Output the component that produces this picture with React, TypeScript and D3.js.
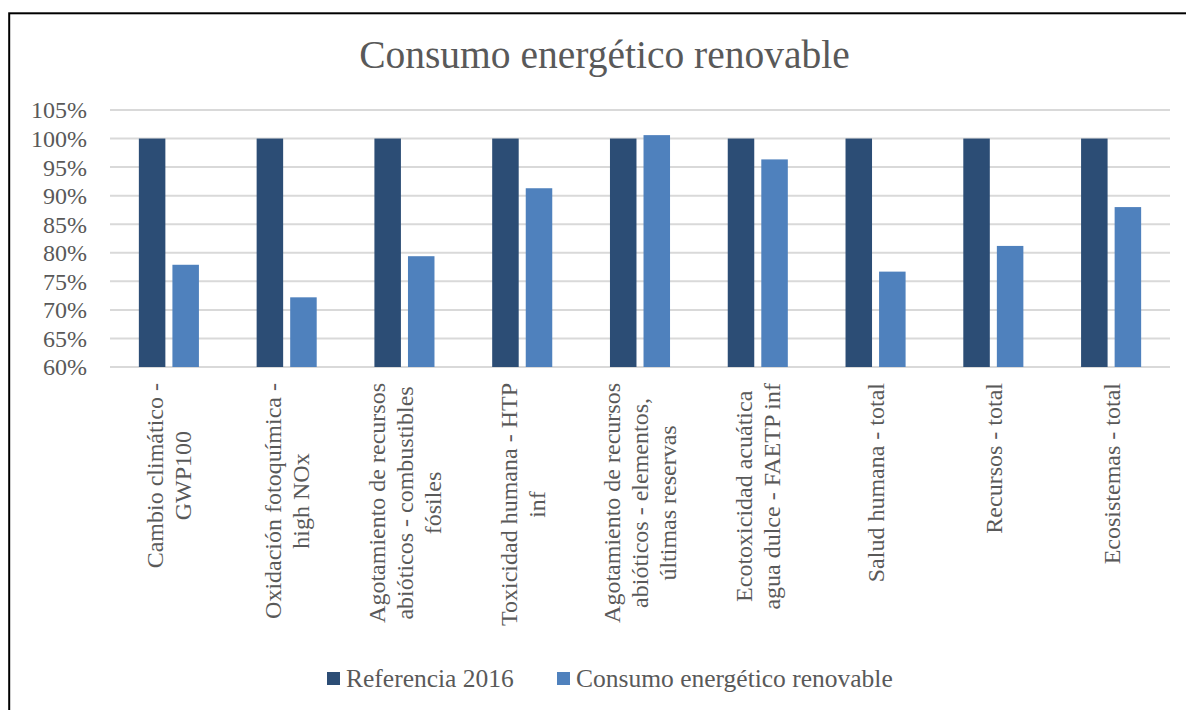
import React, { useEffect, useRef } from "react";
import * as d3 from "d3";

const categories: string[][] = [
  ["Cambio climático -", "GWP100"],
  ["Oxidación fotoquímica -", "high NOx"],
  ["Agotamiento de recursos", "abióticos - combustibles", "fósiles"],
  ["Toxicidad humana - HTP", "inf"],
  ["Agotamiento de recursos", "abióticos - elementos,", "últimas reservas"],
  ["Ecotoxicidad acuática", "agua dulce - FAETP inf"],
  ["Salud humana - total"],
  ["Recursos - total"],
  ["Ecosistemas - total"],
];

const seriesNames = ["Referencia 2016", "Consumo energético renovable"];
const referencia2016 = [100, 100, 100, 100, 100, 100, 100, 100, 100];
const consumoRenovable = [77.9, 72.2, 79.4, 91.3, 100.6, 96.35, 76.7, 81.2, 88.0];
const yTicks = [60, 65, 70, 75, 80, 85, 90, 95, 100, 105];
const title = "Consumo energético renovable";

const colors = ["#2C4D75", "#4F81BD"];
const FONT = "'Liberation Serif', 'Times New Roman', serif";
const TEXT = "#595959";

export default function App() {
  const ref = useRef<SVGSVGElement>(null);

  useEffect(() => {
    const svg = d3.select(ref.current);
    svg.selectAll("*").remove();

    const left = 110, right = 1170, top = 110, bottom = 367;
    const y = d3.scaleLinear().domain([60, 105]).range([bottom, top]);
    const x0 = d3
      .scaleBand<number>()
      .domain(categories.map((_, i) => i))
      .range([left, right])
      .paddingInner(0.49)
      .paddingOuter(0.245);
    const x1 = d3
      .scaleBand<number>()
      .domain([0, 1])
      .range([0, x0.bandwidth()])
      .paddingInner(0.21);

    // frame
    svg
      .append("rect")
      .attr("x", 9.2)
      .attr("y", 13.3)
      .attr("width", 1300)
      .attr("height", 800)
      .attr("fill", "white")
      .attr("stroke", "#000")
      .attr("stroke-width", 2);

    // title
    svg
      .append("text")
      .attr("x", 604.5)
      .attr("y", 68)
      .attr("text-anchor", "middle")
      .attr("font-family", FONT)
      .attr("font-size", 39.5)
      .attr("fill", TEXT)
      .text(title);

    // gridlines
    svg
      .append("g")
      .selectAll("line")
      .data(yTicks)
      .join("line")
      .attr("x1", left)
      .attr("x2", right)
      .attr("y1", (d) => y(d))
      .attr("y2", (d) => y(d))
      .attr("stroke", "#D9D9D9")
      .attr("stroke-width", 2);

    // y tick labels
    svg
      .append("g")
      .selectAll("text")
      .data(yTicks)
      .join("text")
      .attr("x", 87)
      .attr("y", (d) => y(d))
      .attr("dy", "0.35em")
      .attr("text-anchor", "end")
      .attr("font-family", FONT)
      .attr("font-size", 24)
      .attr("fill", TEXT)
      .text((d) => d + "%");

    // bars
    const series = [referencia2016, consumoRenovable];
    series.forEach((vals, s) => {
      svg
        .append("g")
        .selectAll("rect")
        .data(vals)
        .join("rect")
        .attr("x", (_, i) => (x0(i) as number) + (x1(s) as number))
        .attr("width", x1.bandwidth())
        .attr("y", (d) => y(d))
        .attr("height", (d) => y(60) - y(d))
        .attr("fill", colors[s]);
    });

    // category labels
    const lineH = 28;
    const labelTop = 383;
    categories.forEach((lines, i) => {
      const cx = (x0(i) as number) + x0.bandwidth() / 2;
      const g = svg.append("g");
      const texts = lines.map((ln, j) =>
        g
          .append("text")
          .attr("text-anchor", "middle")
          .attr("dy", "0.35em")
          .attr("font-family", FONT)
          .attr("font-size", 24)
          .attr("fill", TEXT)
          .text(ln)
      );
      const maxLen = d3.max(texts, (t) => (t.node() as SVGTextElement).getComputedTextLength()) || 0;
      const cy = labelTop + maxLen / 2;
      texts.forEach((t, j) => {
        const lx = cx + (j - (lines.length - 1) / 2) * lineH;
        t.attr("transform", `translate(${lx},${cy}) rotate(-90)`);
      });
    });

    // legend
    const legendX = [327, 557];
    seriesNames.forEach((name, s) => {
      svg
        .append("rect")
        .attr("x", legendX[s])
        .attr("y", 672)
        .attr("width", 13)
        .attr("height", 13)
        .attr("fill", colors[s]);
      svg
        .append("text")
        .attr("x", legendX[s] + 19)
        .attr("y", 678.5)
        .attr("dy", "0.35em")
        .attr("font-family", FONT)
        .attr("font-size", 25.5)
        .attr("fill", TEXT)
        .text(name);
    });
  }, []);

  return (
    <div style={{ position: "absolute", left: 0, top: 0 }}>
      <svg ref={ref} width={1186} height={710} style={{ display: "block" }} />
    </div>
  );
}
